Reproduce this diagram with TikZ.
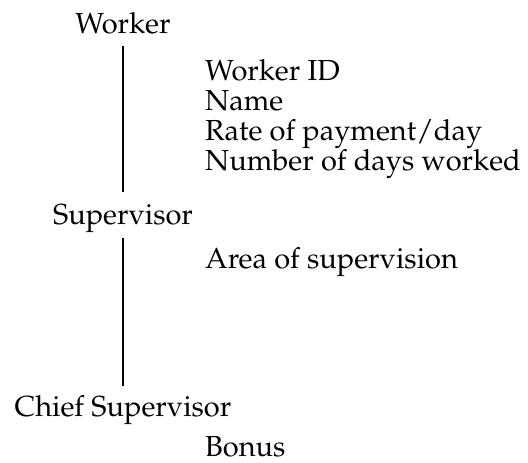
\documentclass[tikz,border=0pt]{standalone}
\usepackage[T1]{fontenc}
\usepackage{mathpazo}
\begin{document}
\begin{tikzpicture}[x=1pt,y=-1pt,
  txt/.style={font=\fontsize{29}{34}\selectfont, inner sep=0pt},
  head/.style={txt, anchor=base},
  attr/.style={txt, anchor=base west},
  link/.style={line width=1.4pt}]
\useasboundingbox (0,0) rectangle (528,463);
\node[head] (worker) at (123,34) {Worker};
\node[attr] (wid) at (205,80) {Worker ID};
\node[attr] (name) at (205,110) {Name};
\node[attr] (rate) at (205,140) {Rate of payment/day};
\node[attr] (days) at (205,170) {Number of days worked};
\node[head] (sup) at (123,224) {Supervisor};
\node[attr] (area) at (205,268) {Area of supervision};
\node[head] (chief) at (123,416) {Chief Supervisor};
\node[attr] (bonus) at (205,456) {Bonus};
\draw[link] ([yshift=-12pt]worker.base) -- ([yshift=32pt]worker.base |- sup.base);
\draw[link] ([yshift=-14pt]worker.base |- sup.base) -- ([yshift=30pt]worker.base |- chief.base);
\end{tikzpicture}
\end{document}
